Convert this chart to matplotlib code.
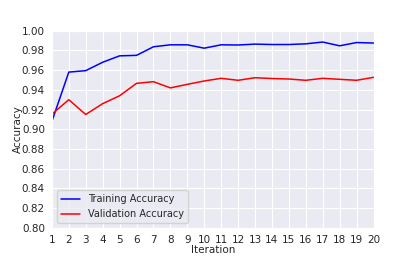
import matplotlib
matplotlib.use('Agg')
import matplotlib.pyplot as plt
import seaborn as sns

iterations = list(range(1, 21))
train_acc = [0.908, 0.958, 0.9595, 0.968, 0.9745, 0.975, 0.9837, 0.9857, 0.9857, 0.9823,
             0.9857, 0.9855, 0.9864, 0.986, 0.986, 0.9867, 0.9885, 0.9847, 0.988, 0.9875]
val_acc = [0.9153, 0.930, 0.915, 0.926, 0.934, 0.9466, 0.9483, 0.942, 0.9456, 0.949,
           0.9517, 0.9497, 0.9523, 0.9515, 0.951, 0.9497, 0.9517, 0.9507, 0.9497, 0.9527]

sns.set_style('darkgrid')
plt.rcParams['font.size'] = 7.5

fig, ax = plt.subplots(figsize=(4.15, 2.56), dpi=100)
ax.plot(iterations, train_acc, color='blue', linewidth=1.1, label='Training Accuracy')
ax.plot(iterations, val_acc, color='red', linewidth=1.1, label='Validation Accuracy')
ax.set_xlim(1, 20)
ax.set_ylim(0.80, 1.00)
ax.set_xticks(iterations)
ax.set_yticks([0.80 + 0.02 * i for i in range(11)])
ax.set_xlabel('Iteration', labelpad=0)
ax.set_ylabel('Accuracy', labelpad=-1)
ax.tick_params(axis='both', pad=1.5, labelsize=7.5)
ax.legend(loc='lower left', fontsize=7)

fig.savefig('out.png', dpi=100)
